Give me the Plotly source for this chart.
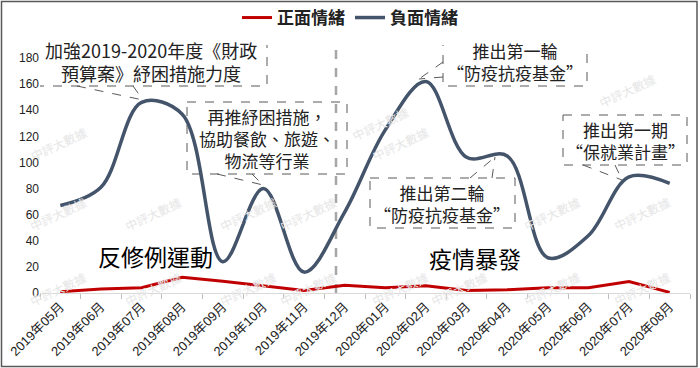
import plotly.graph_objects as go

months = ["2019年05月", "2019年06月", "2019年07月", "2019年08月", "2019年09月", "2019年10月",
          "2019年11月", "2019年12月", "2020年01月", "2020年02月", "2020年03月", "2020年04月",
          "2020年05月", "2020年06月", "2020年07月", "2020年08月"]
positive = [1, 3, 4, 12, 9, 5.5, 2, 6, 4, 5.5, 2, 2.5, 4, 4, 8.7, 0.5]
negative = [67, 81, 146, 137, 24, 80, 16, 62, 125, 162, 104, 105, 27, 44, 89, 84]
series_names = ["正面情緒", "負面情緒"]

W, H = 700, 368
# plot area in screenshot pixels
L, R, T, B = 40, 690, 45, 293
YMAX = 190
def xd(px):
    return (px - L) / ((R - L) / len(months)) - 0.5
def yd(py):
    return (B - py) / ((B - T) / YMAX)
def xp(px):
    return (px - L) / (R - L)
def yp(py):
    return (B - py) / (B - T)

CJK = "Noto Sans CJK TC"
fig = go.Figure()
fig.add_trace(go.Scatter(x=months, y=positive, name=series_names[0], mode="lines",
                         line=dict(color="#C00000", width=3)))
fig.add_trace(go.Scatter(x=months, y=negative, name=series_names[1], mode="lines",
                         line=dict(color="#44546A", width=3.5, shape="spline", smoothing=1.0)))

shapes = []
dash_col = "#595959"
def box(x0, y0, x1, y1):
    shapes.append(dict(type="rect", xref="x", yref="y", x0=xd(x0), x1=xd(x1), y0=yd(y0), y1=yd(y1),
                       line=dict(color=dash_col, width=1, dash="dash"), fillcolor="rgba(0,0,0,0)", layer="above"))
def seg(x0, y0, x1, y1):
    shapes.append(dict(type="line", xref="x", yref="y", x0=xd(x0), x1=xd(x1), y0=yd(y0), y1=yd(y1),
                       line=dict(color=dash_col, width=1, dash="dash"), layer="above"))

# separator
shapes.append(dict(type="line", xref="x", yref="y", x0=xd(336), x1=xd(336), y0=0, y1=yd(48),
                   line=dict(color="#A6A6A6", width=2.5, dash="dash"), layer="below"))

box(35, 37, 267, 86); seg(77, 86, 143, 100); seg(133, 86, 143, 100)
box(187, 102, 347, 174); seg(217, 174, 263, 185); seg(252, 174, 263, 185)
box(443, 36, 587, 86); seg(443, 62, 419, 79); seg(443, 77, 419, 79)
box(370, 178, 515, 228); seg(470, 178, 495, 157); seg(492, 178, 495, 157)
box(563, 115, 687, 165); seg(583, 165, 622, 180); seg(615, 165, 622, 180)

# outer border
shapes.append(dict(type="rect", xref="paper", yref="paper", x0=xp(1.5), x1=xp(697), y0=yp(366.5), y1=yp(1.5),
                   line=dict(color="#595959", width=1.5), layer="above"))

annotations = []
# faint watermarks (only where they do not collide with the callout texts)
wm_pos = [(25, 143), (25, 237), (25, 312), (120, 237), (120, 312), (215, 237), (215, 312),
          (308, 237), (308, 312), (400, 143), (400, 312), (492, 312), (585, 237), (585, 312),
          (675, 237), (675, 312), (660, 67), (380, 100)]
for wx, wy in wm_pos:
    annotations.append(dict(xref="paper", yref="paper", x=xp(wx), y=yp(wy), text="中評大數據",
                            showarrow=False, textangle=-25, font=dict(family=CJK, size=12, color="#E6E6E6")))

def note(cx, cy, text, size=17, color="#222222", weight="normal"):
    annotations.append(dict(xref="x", yref="y", x=xd(cx), y=yd(cy), text=text, showarrow=False,
                            xanchor="center", yanchor="middle",
                            font=dict(family=CJK, size=size, color=color, weight=weight)))

note(151, 61, "加強2019-2020年度《財政<br>預算案》紓困措施力度", size=18)
note(267, 138, "再推紓困措施，<br>協助餐飲、旅遊、<br>物流等行業")
note(515, 61, "推出第一輪<br>“防疫抗疫基金”")
note(442, 203, "推出第二輪<br>“防疫抗疫基金”")
note(625, 140, "推出第一期<br>“保就業計畫”")
note(155, 256, "反修例運動", size=23, color="#000000")
note(475, 258, "疫情暴發", size=23, color="#000000")

fig.update_layout(
    width=W, height=H,
    margin=dict(l=L, r=W - R, t=T, b=H - B, autoexpand=False),
    paper_bgcolor="white", plot_bgcolor="white",
    shapes=shapes, annotations=annotations,
    showlegend=True,
    legend=dict(orientation="h", x=xp(350), y=yp(18), xanchor="center", yanchor="middle",
                font=dict(family=CJK, size=17, color="#222222", weight="bold"),
                itemwidth=30, bgcolor="rgba(0,0,0,0)"),
    xaxis=dict(type="category", range=[-0.5, len(months) - 0.5], tickangle=-45, automargin=False,
               tickson="boundaries", ticks="outside", ticklen=5, tickcolor="#BFBFBF",
               showline=True, linecolor="#D9D9D9", linewidth=1, showgrid=False,
               tickfont=dict(family="Liberation Sans, " + CJK, size=13, color="#222222")),
    yaxis=dict(range=[0, YMAX], tickvals=[0, 20, 40, 60, 80, 100, 120, 140, 160, 180], automargin=False,
               showgrid=False, zeroline=False, showline=False,
               tickfont=dict(family="Liberation Sans", size=12, color="#222222")),
)

# remove the page's default 8px body margin so the 700x368 figure fills the window
fig.write_html("out.html", config={"displayModeBar": False},
               post_script="document.body.style.margin='0';document.body.style.overflow='hidden';")
